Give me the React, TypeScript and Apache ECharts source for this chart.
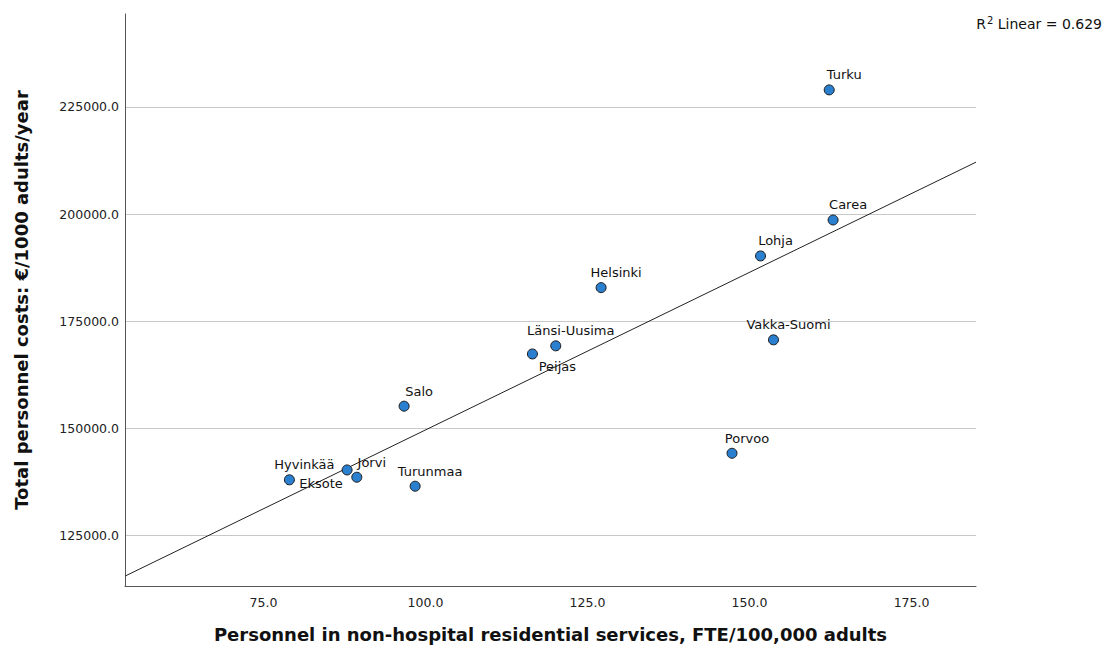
import React, { useEffect, useRef } from "react";
import * as echarts from "echarts";

const names = ["Turku", "Carea", "Lohja", "Helsinki", "Vakka-Suomi", "Länsi-Uusima", "Peijas", "Salo", "Porvoo", "Hyvinkää", "Jorvi", "Eksote", "Turunmaa"];
const fteValues = [162.3, 162.9, 151.7, 127.1, 153.7, 120.1, 116.5, 96.7, 147.3, 79.0, 89.4, 87.9, 98.4];
const costValues = [229000, 198600, 190200, 182800, 170600, 169200, 167300, 155100, 144100, 137900, 138500, 140200, 136400];
const xTicks = [75, 100, 125, 150, 175];
const yTicks = [125000, 150000, 175000, 200000, 225000];
const r2Text = "0.629";

// label placement (style only)
const labelOffsets: Record<string, [number, number]> = {
  Peijas: [25, 13],
  Eksote: [-26, 14],
};

const X_MIN = 53.63;
const X_MAX = 184.95;
const Y_MIN = 113087;
const Y_MAX = 246728;

function fitLine(xs: number[], ys: number[]) {
  const n = xs.length;
  const mx = xs.reduce((a, b) => a + b, 0) / n;
  const my = ys.reduce((a, b) => a + b, 0) / n;
  let sxy = 0, sxx = 0;
  for (let i = 0; i < n; i++) {
    sxy += (xs[i] - mx) * (ys[i] - my);
    sxx += (xs[i] - mx) * (xs[i] - mx);
  }
  const b = sxy / sxx;
  const a = my - b * mx;
  return { a, b };
}

export default function App() {
  const ref = useRef<HTMLDivElement>(null);
  useEffect(() => {
    if (!ref.current) return;
    const chart = echarts.init(ref.current, undefined, { renderer: "svg" });
    const { a, b } = fitLine(fteValues, costValues);
    const font = "DejaVu Sans";
    const scatterData = names.map((n, i) => {
      const off = labelOffsets[n] || [15, -15];
      return {
        name: n,
        value: [fteValues[i], costValues[i]],
        label: { offset: off },
      };
    });
    chart.setOption({
      animation: false,
      backgroundColor: "#ffffff",
      textStyle: { fontFamily: font },
      grid: { left: 125, right: 130, top: 14, bottom: 62, containLabel: false },
      xAxis: {
        type: "value",
        min: X_MIN,
        max: X_MAX,
        name: "Personnel in non-hospital residential services, FTE/100,000 adults",
        nameLocation: "middle",
        nameGap: 39,
        nameTextStyle: { fontFamily: font, fontSize: 18, fontWeight: "bold", color: "#111" },
        axisLine: { show: true, lineStyle: { color: "#555", width: 1 } },
        axisTick: { show: false, customValues: xTicks },
        axisLabel: {
          customValues: xTicks,
          formatter: (v: number) => v.toFixed(1),
          fontFamily: font,
          fontSize: 12.5,
          color: "#222",
          margin: 10,
        },
        splitLine: { show: false },
      },
      yAxis: {
        type: "value",
        min: Y_MIN,
        max: Y_MAX,
        name: "Total personnel costs: €/1000 adults/year",
        nameLocation: "middle",
        nameGap: 95,
        nameTextStyle: { fontFamily: font, fontSize: 18, fontWeight: "bold", color: "#111" },
        axisLine: { show: true, lineStyle: { color: "#555", width: 1 } },
        axisTick: { show: false, customValues: yTicks },
        axisLabel: {
          customValues: yTicks,
          formatter: (v: number) => v.toFixed(1),
          fontFamily: font,
          fontSize: 12.5,
          color: "#222",
          margin: 6,
        },
        splitLine: { show: true, lineStyle: { color: "#c8c8c8", width: 1 } },
      },
      graphic: [
        {
          type: "text",
          right: 4,
          top: 15,
          style: {
            text: "{r|R}{s|2}{r| Linear = " + r2Text + "}",
            rich: {
              r: { fontFamily: font, fontSize: 14, fill: "#111", verticalAlign: "bottom" },
              s: { fontFamily: font, fontSize: 10, fill: "#111", verticalAlign: "top", padding: [0, 0, 6, 1] },
            },
          },
        },
      ],
      series: [
        {
          type: "line",
          data: [
            [X_MIN, a + b * X_MIN],
            [X_MAX, a + b * X_MAX],
          ],
          showSymbol: false,
          symbol: "none",
          lineStyle: { color: "#222", width: 1 },
          clip: true,
          silent: true,
          z: 2,
        },
        {
          type: "scatter",
          data: scatterData,
          symbol: "circle",
          symbolSize: 10,
          itemStyle: { color: "#2a7fcf", borderColor: "#1a1a1a", borderWidth: 1, opacity: 1 },
          label: {
            show: true,
            position: "inside",
            formatter: (p: any) => p.name,
            fontFamily: font,
            fontSize: 13,
            color: "#111",
          },
          z: 3,
        },
      ],
    });
    return () => chart.dispose();
  }, []);
  return <div ref={ref} style={{ width: 1106, height: 648, position: "absolute", left: 0, top: 0 }} />;
}
